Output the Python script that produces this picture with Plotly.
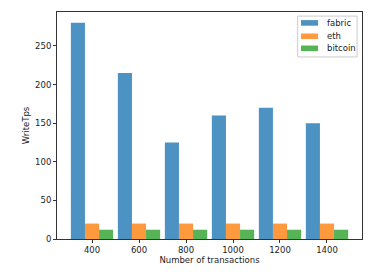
import plotly.graph_objects as go

categories = ["400", "600", "800", "1000", "1200", "1400"]
fabric = [280, 215, 125, 160, 170, 150]
eth = [20, 20, 20, 20, 20, 20]
bitcoin = [12, 12, 12, 12, 12, 12]
series_names = ["fabric", "eth", "bitcoin"]
series_values = [fabric, eth, bitcoin]
colors = ["rgba(31,119,180,0.8)", "rgba(255,127,14,0.8)", "rgba(44,160,44,0.8)"]

fig = go.Figure()
for name, vals, col in zip(series_names, series_values, colors):
    fig.add_trace(go.Bar(x=categories, y=vals, name=name, marker_color=col,
                         marker_line_width=0, showlegend=False))

# matplotlib-style legend drawn in paper coordinates
shapes = [dict(type="rect", xref="paper", yref="paper", x0=0.789, x1=0.984,
               y0=0.802, y1=0.982, line=dict(color="#cccccc", width=1),
               fillcolor="white", layer="above")]
annotations = []
centers = [0.952, 0.893, 0.840]
for name, col, cy in zip(series_names, colors, centers):
    shapes.append(dict(type="rect", xref="paper", yref="paper", x0=0.800, x1=0.856,
                       y0=cy - 0.0123, y1=cy + 0.0123, line=dict(width=0),
                       fillcolor=col, layer="above"))
    annotations.append(dict(text=name, xref="paper", yref="paper", x=0.879, y=cy,
                            xanchor="left", yanchor="middle", showarrow=False,
                            font=dict(size=8.5, color="#222")))

fig.update_layout(
    width=377, height=268,
    margin=dict(l=49, r=23, t=4, b=37),
    barmode="group", bargap=0.1, bargroupgap=0,
    plot_bgcolor="white", paper_bgcolor="white",
    font=dict(family="DejaVu Sans", size=8.5, color="#222"),
    shapes=shapes, annotations=annotations,
)
fig.update_xaxes(range=[-0.745, 5.745], showline=True, linecolor="#333", linewidth=1,
                 mirror=True, ticks="outside", ticklen=3, tickcolor="#333",
                 showgrid=False, automargin=False,
                 title=dict(text="Number of transactions", standoff=2, font=dict(size=8.5)))
fig.update_yaxes(range=[0, 294], showline=True, linecolor="#333", linewidth=1,
                 mirror=True, ticks="outside", ticklen=3, tickcolor="#333",
                 showgrid=False, zeroline=False, tickvals=[0, 50, 100, 150, 200, 250],
                 automargin=False,
                 title=dict(text="WriteTps", standoff=4, font=dict(size=8.5)))

fig.write_html("out.html")
